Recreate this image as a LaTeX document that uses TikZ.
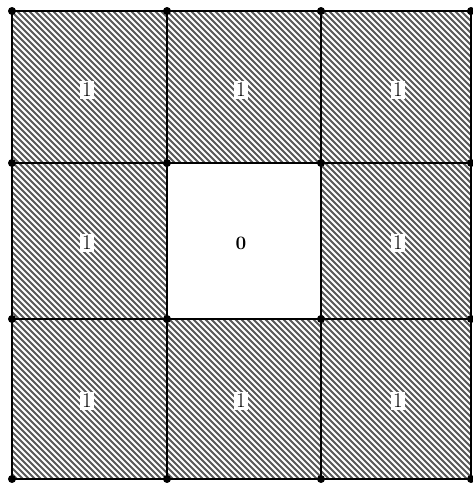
\documentclass[tikz,border=0pt]{standalone}
\begin{document}
\begin{tikzpicture}[x=1pt,y=-1pt,
  gridline/.style={line width=2.8pt,black},
  hatch/.style={line width=2pt,black!65},
  dotpt/.style={circle,fill=black,inner sep=0pt,minimum size=8pt},
  onelabel/.style={fill=white,inner sep=2.5pt,font=\fontsize{21}{21}\selectfont},
  zerolabel/.style={inner sep=1pt,font=\fontsize{19}{19}\selectfont\bfseries}]
\useasboundingbox (0,0) rectangle (473,483);
\fill[white] (0,0) rectangle (473,483);
% grid coordinates
\coordinate (g00) at (12,11);  \coordinate (g33) at (471,479);
\coordinate (c11) at (167,163); \coordinate (c22) at (321,319);
% hatching everywhere except the centre cell
\begin{scope}
  \clip (g00) rectangle (g33);
  \foreach \c in {-480,-474,...,480}
    \draw[hatch] (\c,0) -- (\c+490,490);
\end{scope}
\fill[white] (c11) rectangle (c22);
% grid lines
\foreach \x in {12,167,321,471} \draw[gridline] (\x,11) -- (\x,479);
\foreach \y in {11,163,319,479} \draw[gridline] (12,\y) -- (471,\y);
% dots at intersections
\foreach \x [count=\i] in {12,167,321,471}
  \foreach \y [count=\j] in {11,163,319,479}
    \node[dotpt] (d\i\j) at (\x,\y) {};
% labels
\node[onelabel] (l11) at (87,90) {1};
\node[onelabel] (l21) at (241,90) {1};
\node[onelabel] (l31) at (398,90) {1};
\node[onelabel] (l12) at (87,243) {1};
\node[zerolabel] (l22) at (241,243) {0};
\node[onelabel] (l32) at (398,243) {1};
\node[onelabel] (l13) at (87,401) {1};
\node[onelabel] (l23) at (241,401) {1};
\node[onelabel] (l33) at (398,401) {1};
\end{tikzpicture}
\end{document}
